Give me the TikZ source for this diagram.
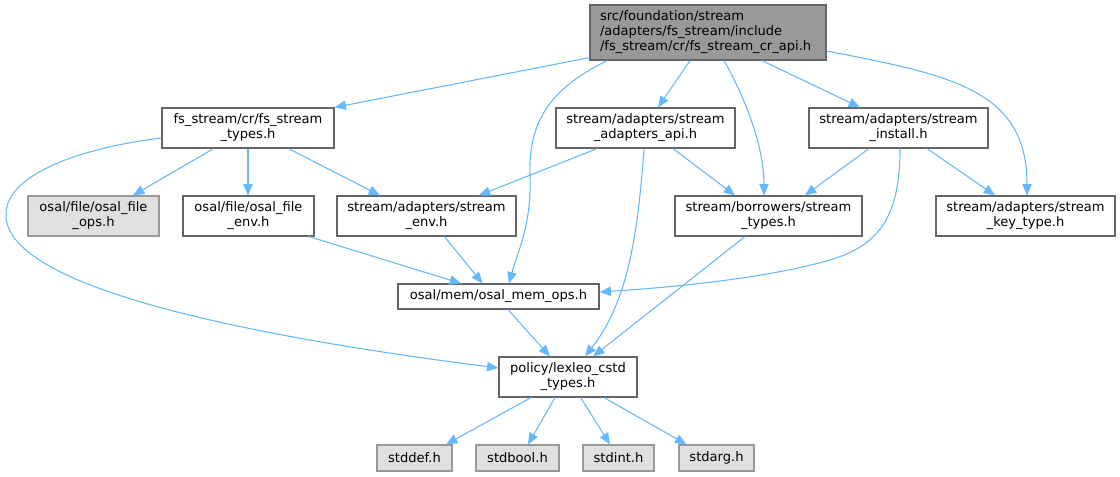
\documentclass[tikz,border=0pt]{standalone}
\usepackage{fontspec}
\setmainfont{DejaVu Sans}
\usetikzlibrary{arrows.meta,calc}
\definecolor{edgeblue}{HTML}{63B8FF}
\definecolor{boxgray}{HTML}{666666}
\definecolor{missgray}{HTML}{999999}
\definecolor{missfill}{HTML}{E0E0E0}
\definecolor{rootfill}{HTML}{999999}
\begin{document}
\begin{tikzpicture}[x=0.75pt,y=-0.75pt,
  every node/.style={font=\fontsize{9.8pt}{11.25pt}\selectfont, inner sep=0pt, align=center},
  wh/.style 2 args={minimum width=#1*0.75pt, minimum height=#2*0.75pt},
  filebox/.style={draw=boxgray, fill=white, line width=0.9pt},
  missbox/.style={draw=missgray, fill=missfill, line width=0.9pt},
  dep/.style={draw=edgeblue, line width=0.8pt, -{Triangle[length=8.5pt,width=7pt]}},
]
\fill[white] (0,0) rectangle (1120,476);
\useasboundingbox (0,0) rectangle (1120,476);

\node[filebox, fill=rootfill, text width=162pt, align=left, inner xsep=7.5pt, minimum height=55*0.75pt] (root) at (708,32.5)
  {src/foundation/stream\\/adapters/fs\_stream/include\\/fs\_stream/cr/fs\_stream\_cr\_api.h};
\node[filebox, wh={172}{40}] (fsT) at (248,128) {fs\_stream/cr/fs\_stream\\\_types.h};
\node[filebox, wh={179}{40}] (saa) at (645.5,128) {stream/adapters/stream\\\_adapters\_api.h};
\node[filebox, wh={179}{40}] (sinst) at (898.5,128) {stream/adapters/stream\\\_install.h};
\node[missbox, wh={131}{40}] (ops) at (93.5,216) {osal/file/osal\_file\\\_ops.h};
\node[filebox, wh={131}{40}] (fenv) at (248.5,216) {osal/file/osal\_file\\\_env.h};
\node[filebox, wh={179}{40}] (senv) at (426.5,216) {stream/adapters/stream\\\_env.h};
\node[filebox, wh={187}{40}] (sbt) at (768.5,216) {stream/borrowers/stream\\\_types.h};
\node[filebox, wh={179}{40}] (skey) at (1025.5,216) {stream/adapters/stream\\\_key\_type.h};
\node[filebox, wh={201}{25}] (mem) at (498.5,296.5) {osal/mem/osal\_mem\_ops.h};
\node[filebox, wh={138}{40}] (pol) at (568,377) {policy/lexleo\_cstd\\\_types.h};
\node[missbox, wh={75}{26}] (sdef) at (414.5,458) {stddef.h};
\node[missbox, wh={83}{26}] (sbool) at (517.5,458) {stdbool.h};
\node[missbox, wh={71}{26}] (sint) at (618.5,458) {stdint.h};
\node[missbox, wh={75}{26}] (sarg) at (716.5,458) {stdarg.h};

% root edges
\draw[dep] ($(root.south west)+(0,-3)$) -- (fsT.north east);
\draw[dep] ($(root.south)+(-101,0)$) .. controls +(-50,25) and +(-2,-60) .. (530,175)
  .. controls +(2,50) and +(8,-30) .. ($(mem.north)+(10.5,0)$);
\draw[dep] ($(root.south)+(-18,0)$) -- ($(saa.north)+(12.5,0)$);
\draw[dep] ($(root.south)+(16,0)$) .. controls +(20,35) and +(0,-50) .. ($(sbt.north)+(-4.5,0)$);
\draw[dep] ($(root.south)+(54,0)$) -- ($(sinst.north)+(-38.5,0)$);
\draw[dep] ($(root.east)+(0,18.5)$) .. controls +(124,24) and +(0,-106) .. ($(skey.north)+(1.5,0)$);

% fs_stream_types edges
\draw[dep] ($(fsT.south)+(-34.5,0)$) -- ($(ops.north)+(39.5,0)$);
\draw[dep] (fsT.south) -- (fsT.south |- fenv.north);
\draw[dep] ($(fsT.south)+(40.5,0)$) -- ($(senv.north)+(-46.5,0)$);
\draw[dep] ($(fsT.west)+(0,10)$) .. controls +(-82,10) and +(-1,-40) .. (6,215)
  .. controls +(0,65) and +(-298,-38) .. ($(pol.west)+(0,-9)$);

% stream_adapters_api edges
\draw[dep] ($(saa.south)+(-48.5,0)$) -- ($(senv.north)+(52.5,0)$);
\draw[dep] ($(saa.south)+(27.5,0)$) -- ($(sbt.north)+(-33.5,0)$);
\draw[dep] ($(saa.south)+(-1.5,0)$) .. controls +(-6,82) and +(44,-56) .. ($(pol.north)+(17,0)$);

% stream_install edges
\draw[dep] ($(sinst.south)+(-29.5,0)$) -- ($(sbt.north)+(36.5,0)$);
\draw[dep] ($(sinst.south)+(28.5,0)$) -- ($(skey.north)+(-30.5,0)$);
\draw[dep] ($(sinst.south)+(1.5,0)$) .. controls +(0,67) and +(50,-15) .. (830,260)
  .. controls +(-70,20) and +(61,-4) .. ($(mem.east)+(0,-4.5)$);

% lower edges
\draw[dep] ($(sbt.south)+(-23.5,0)$) -- ($(pol.north)+(25,0)$);
\draw[dep] ($(fenv.south)+(60.5,0)$) -- ($(mem.north)+(-37.5,0)$);
\draw[dep] ($(senv.south)+(18,0)$) -- ($(mem.north)+(-16,0)$);
\draw[dep] ($(mem.south)+(9.5,0)$) -- ($(pol.north)+(-18,0)$);

% policy edges
\draw[dep] ($(pol.south)+(-37,0)$) -- ($(sdef.north)+(31.5,0)$);
\draw[dep] ($(pol.south)+(-13,0)$) -- ($(sbool.north)+(10.5,0)$);
\draw[dep] ($(pol.south)+(12.7,0)$) -- ($(sint.north)+(-8.5,0)$);
\draw[dep] ($(pol.south)+(36,0)$) -- ($(sarg.north)+(-30,0)$);
\end{tikzpicture}
\end{document}
